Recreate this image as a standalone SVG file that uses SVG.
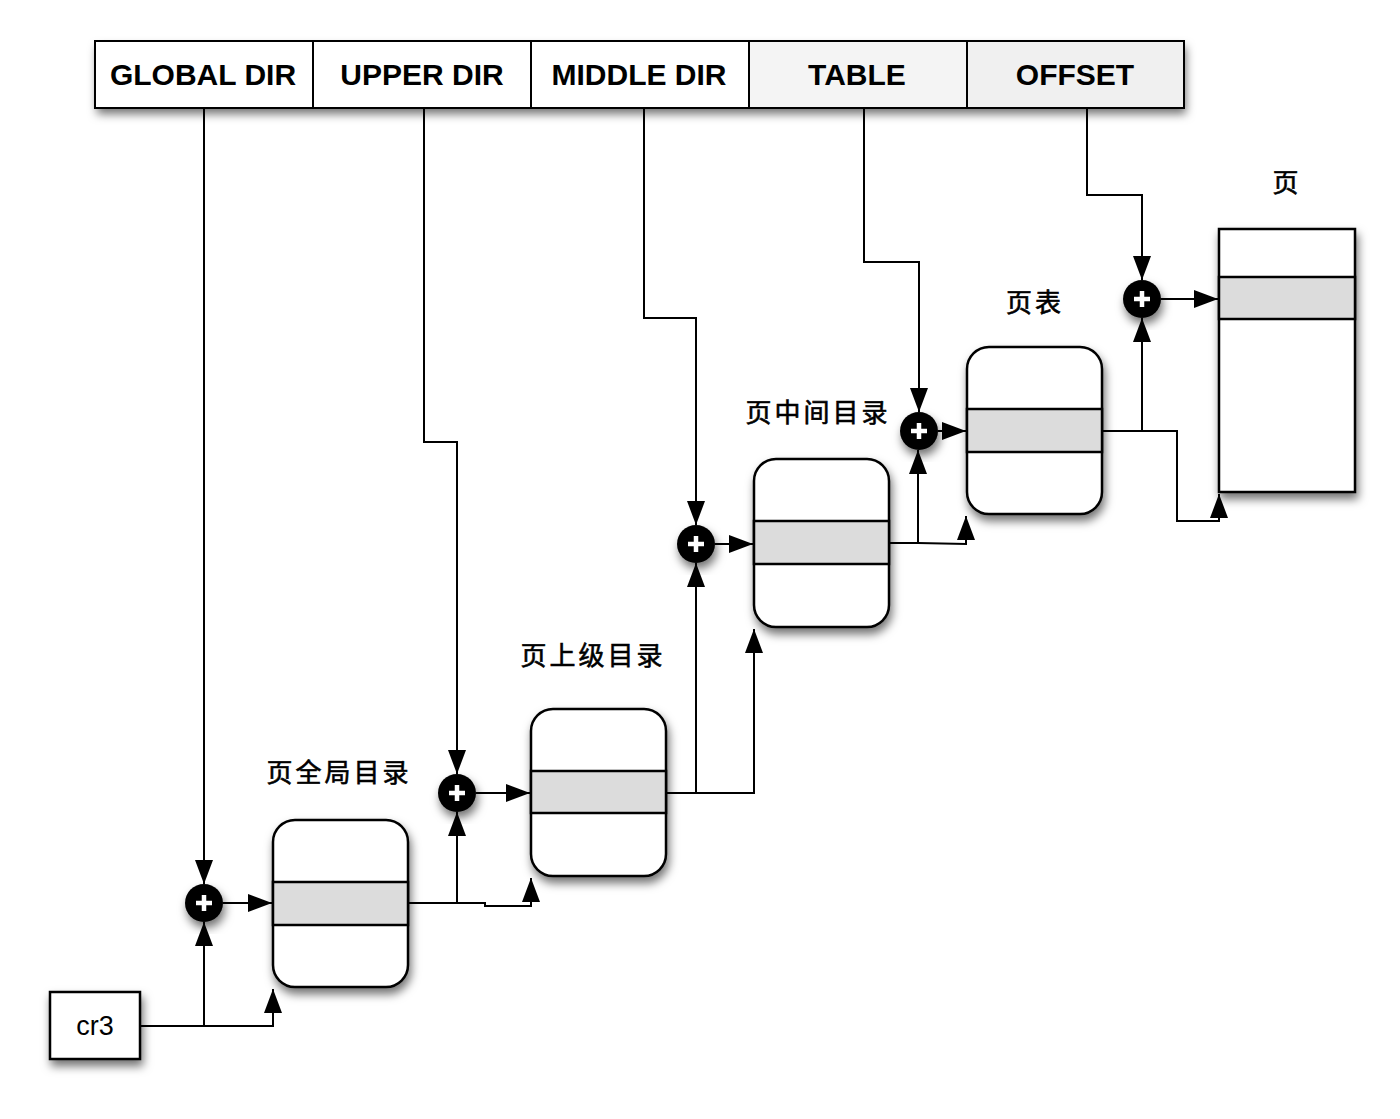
<svg xmlns="http://www.w3.org/2000/svg" width="1400" height="1119" viewBox="0 0 1400 1119">
<style>
.cell{stroke:#000;stroke-width:2}
.hdr{font-family:"Liberation Sans",Arial,sans-serif;font-weight:bold;font-size:30px;fill:#000;text-anchor:middle}
.lbl{font-family:"Noto Sans CJK SC","Noto Sans",sans-serif;font-weight:normal;font-size:26px;letter-spacing:3px;fill:#000;stroke:#000;stroke-width:0.6;text-anchor:middle}
.box{fill:#fff;stroke:#000;stroke-width:2.5}
.band{fill:#dcdcdc;stroke:#000;stroke-width:2.5}
.arr{fill:none;stroke:#000;stroke-width:2;marker-end:url(#ah)}
.plus{stroke:#fff;stroke-width:4.5}
</style>
<defs>
<filter id="sh" x="-30%" y="-30%" width="160%" height="160%">
<feDropShadow dx="2" dy="6" stdDeviation="5" flood-color="#000" flood-opacity="0.55"/>
</filter>
<marker id="ah" markerUnits="userSpaceOnUse" markerWidth="25" markerHeight="18" refX="24" refY="9" orient="auto">
<path d="M0,0 L24,9 L0,18 z" fill="#000"/>
</marker>
</defs>

<g id="bar">
<g filter="url(#sh)">
<rect x="95" y="41" width="1089" height="67" fill="#fff"/>
</g>
<rect class="cell" x="95" y="41" width="218" height="67" fill="#fff"/>
<rect class="cell" x="313" y="41" width="218" height="67" fill="#fff"/>
<rect class="cell" x="531" y="41" width="218" height="67" fill="#fff"/>
<rect class="cell" x="749" y="41" width="218" height="67" fill="#f4f4f4"/>
<rect class="cell" x="967" y="41" width="217" height="67" fill="#f0f0f0"/>
<text class="hdr" x="203" y="85">GLOBAL DIR</text>
<text class="hdr" x="422" y="85">UPPER DIR</text>
<text class="hdr" x="639" y="85">MIDDLE DIR</text>
<text class="hdr" x="857" y="85">TABLE</text>
<text class="hdr" x="1075" y="85">OFFSET</text>
</g>

<g id="connectors">
<path class="arr" d="M204,108 V884"/>
<path class="arr" d="M424,108 V442 H457 V774"/>
<path class="arr" d="M644,108 V318 H696 V525"/>
<path class="arr" d="M864,108 V262 H919 V412"/>
<path class="arr" d="M1087,108 V195 H1142 V280"/>
<path class="arr" d="M140,1026 H273 V989"/>
<path class="arr" d="M204,1026 V922"/>
<path class="arr" d="M223,903 H272"/>
<path class="arr" d="M476,793 H530"/>
<path class="arr" d="M715,544 H753"/>
<path class="arr" d="M938,431 H966"/>
<path class="arr" d="M1161,299 H1218"/>
<path class="arr" d="M408,903 H457 V812"/>
<path class="arr" d="M457,903 H485 V906 H531 V878"/>
<path class="arr" d="M666,793 H696 V563"/>
<path class="arr" d="M696,793 H754 V629"/>
<path class="arr" d="M889,543 H918 V450"/>
<path class="arr" d="M918,543 L966,544 V516"/>
<path class="arr" d="M1102,431 H1142 V318"/>
<path class="arr" d="M1142,431 H1177 V521 H1219 V494"/>
</g>

<g id="cr3">
<rect x="50" y="992" width="90" height="67" fill="#fff" stroke="#000" stroke-width="2.5" filter="url(#sh)"/>
<text x="95" y="1035" font-family="Liberation Sans,Arial,sans-serif" font-size="27" text-anchor="middle">cr3</text>
</g>

<g id="c1" filter="url(#sh)"><circle cx="204" cy="903" r="19" fill="#000"/><path class="plus" d="M196,903 H212 M204,895 V911"/></g>
<g id="c2" filter="url(#sh)"><circle cx="457" cy="793" r="19" fill="#000"/><path class="plus" d="M449,793 H465 M457,785 V801"/></g>
<g id="c3" filter="url(#sh)"><circle cx="696" cy="544" r="19" fill="#000"/><path class="plus" d="M688,544 H704 M696,536 V552"/></g>
<g id="c4" filter="url(#sh)"><circle cx="919" cy="431" r="19" fill="#000"/><path class="plus" d="M911,431 H927 M919,423 V439"/></g>
<g id="c5" filter="url(#sh)"><circle cx="1142" cy="299" r="19" fill="#000"/><path class="plus" d="M1134,299 H1150 M1142,291 V307"/></g>

<g id="pgd">
<rect class="box" x="273" y="820" width="135" height="167" rx="22" filter="url(#sh)"/>
<rect class="band" x="273" y="882" width="135" height="43"/>
<text class="lbl" x="339" y="782">页全局目录</text>
</g>
<g id="pud">
<rect class="box" x="531" y="709" width="135" height="167" rx="22" filter="url(#sh)"/>
<rect class="band" x="531" y="771" width="135" height="42"/>
<text class="lbl" x="593" y="665">页上级目录</text>
</g>
<g id="pmd">
<rect class="box" x="754" y="459" width="135" height="168" rx="22" filter="url(#sh)"/>
<rect class="band" x="754" y="521" width="135" height="43"/>
<text class="lbl" x="818" y="422">页中间目录</text>
</g>
<g id="pt">
<rect class="box" x="967" y="347" width="135" height="167" rx="22" filter="url(#sh)"/>
<rect class="band" x="967" y="409" width="135" height="43"/>
<text class="lbl" x="1035" y="312">页表</text>
</g>
<g id="page">
<rect class="box" x="1219" y="229" width="136" height="263" filter="url(#sh)"/>
<rect class="band" x="1219" y="277" width="136" height="42"/>
<text class="lbl" x="1287" y="192">页</text>
</g>
</svg>
